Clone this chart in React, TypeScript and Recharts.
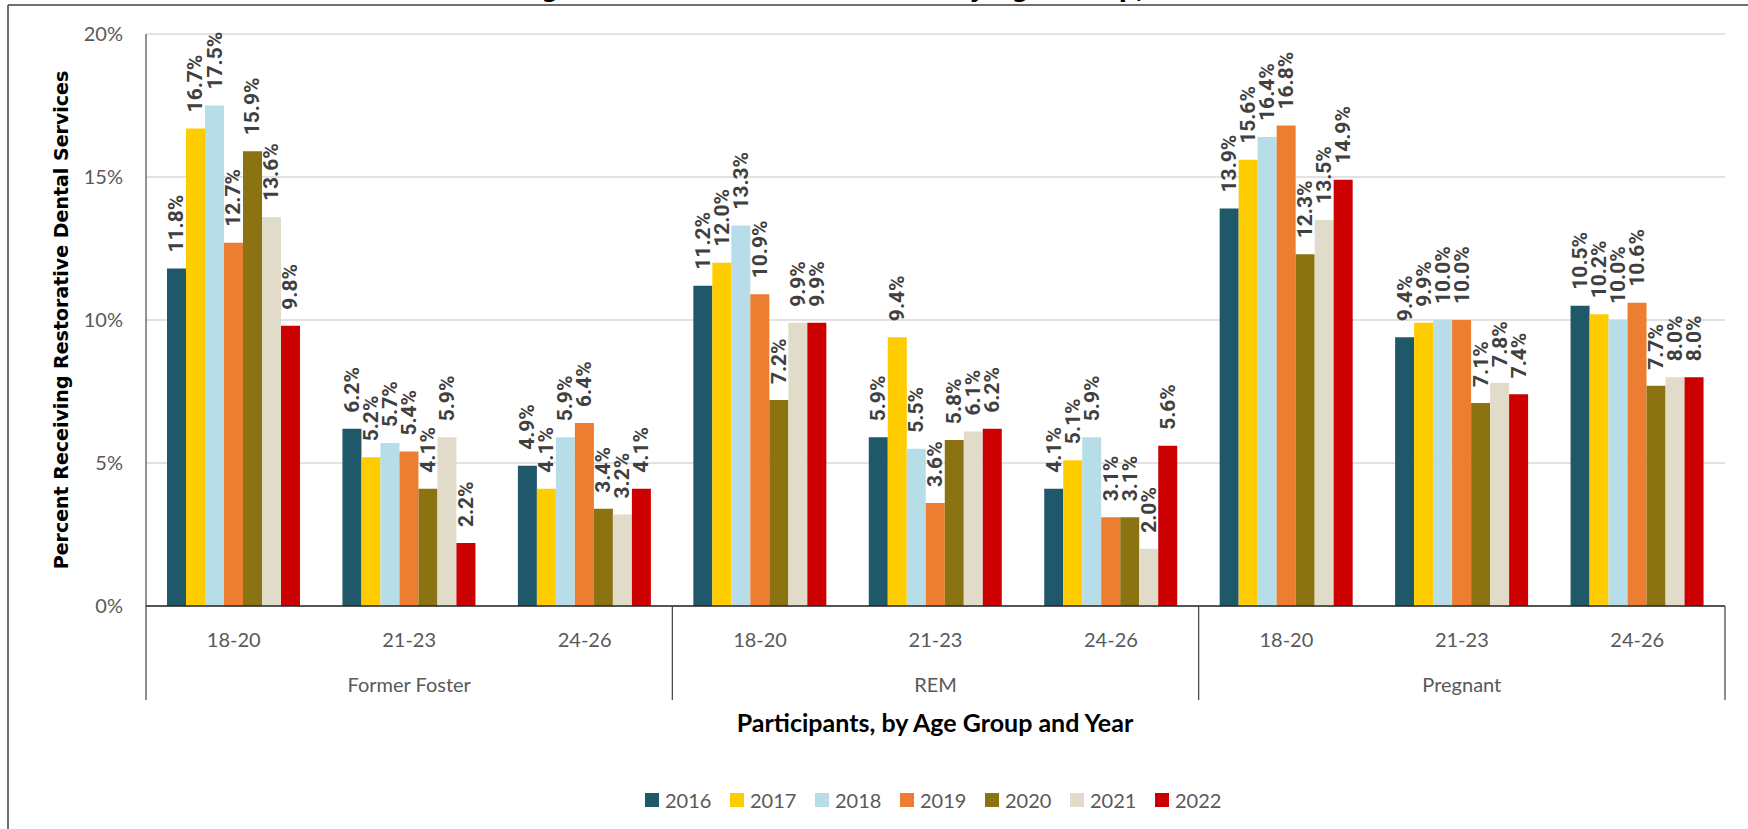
import { BarChart, Bar, XAxis, YAxis, CartesianGrid, LabelList } from 'recharts';

// categories
const groups = ['Former Foster', 'REM', 'Pregnant'];
const ages = ['18-20', '21-23', '24-26'];
const years = ['2016', '2017', '2018', '2019', '2020', '2021', '2022'];
const yTicks = [0, 5, 10, 15, 20];

// percent receiving restorative dental services, one list per year
// order: FF 18-20, FF 21-23, FF 24-26, REM 18-20, REM 21-23, REM 24-26, Preg 18-20, Preg 21-23, Preg 24-26
const v2016 = [11.8, 6.2, 4.9, 11.2, 5.9, 4.1, 13.9, 9.4, 10.5];
const v2017 = [16.7, 5.2, 4.1, 12.0, 9.4, 5.1, 15.6, 9.9, 10.2];
const v2018 = [17.5, 5.7, 5.9, 13.3, 5.5, 5.9, 16.4, 10.0, 10.0];
const v2019 = [12.7, 5.4, 6.4, 10.9, 3.6, 3.1, 16.8, 10.0, 10.6];
const v2020 = [15.9, 4.1, 3.4, 7.2, 5.8, 3.1, 12.3, 7.1, 7.7];
const v2021 = [13.6, 5.9, 3.2, 9.9, 6.1, 2.0, 13.5, 7.8, 8.0];
const v2022 = [9.8, 2.2, 4.1, 9.9, 6.2, 5.6, 14.9, 7.4, 8.0];

const seriesValues = [v2016, v2017, v2018, v2019, v2020, v2021, v2022];
const colors = ['#1f5868', '#ffcc00', '#b7dee8', '#ed7d31', '#8b7311', '#e1dcca', '#cc0000'];

const W = 1748;
const H = 829;
const Y_AXIS_W = 146;
const M_RIGHT = 23;
const M_TOP = 34;
const X_AXIS_H = 140;
const M_BOTTOM = 83;
const PLOT_W = W - Y_AXIS_W - M_RIGHT;

const calibri = 'Lato, "Open Sans", sans-serif';

const rows = groups.flatMap((g, gi) =>
  ages.map((a, ai) => {
    const row: Record<string, string | number> = { group: g, age: a };
    years.forEach((y, yi) => {
      row[y] = seriesValues[yi][gi * ages.length + ai];
    });
    return row;
  })
);

const AgeTick = (props: any) => {
  const { x, y, payload, index } = props;
  const band = PLOT_W / rows.length;
  const left = x - band / 2;
  const right = x + band / 2;
  const pos = index % ages.length;
  return (
    <g>
      <text x={x} y={y + 33} textAnchor="middle" dominantBaseline="central" fontFamily={calibri} fontSize={20} fill="#595959">
        {payload.value}
      </text>
      {pos === 1 && (
        <text x={x} y={y + 78} textAnchor="middle" dominantBaseline="central" fontFamily={calibri} fontSize={20} fill="#595959">
          {groups[Math.floor(index / ages.length)]}
        </text>
      )}
      {pos === 0 && <line x1={left} x2={left} y1={y} y2={y + 94} stroke="#404040" strokeWidth={1.2} />}
      {index === rows.length - 1 && <line x1={right} x2={right} y1={y} y2={y + 94} stroke="#404040" strokeWidth={1.2} />}
    </g>
  );
};

const BarLabel = (props: any) => {
  const vb = props.viewBox || props;
  const x = Number(props.x ?? vb.x);
  const y = Number(props.y ?? vb.y);
  const w = Number(props.width ?? vb.width);
  const cx = x + w / 2;
  const ty = y - 16;
  return (
    <text
      x={cx}
      y={ty}
      transform={`rotate(-90 ${cx} ${ty})`}
      textAnchor="start"
      dominantBaseline="central"
      fontFamily="Roboto, sans-serif"
      fontWeight={700}
      fontSize={21}
      fill="#404040"
    >
      {Number(props.value).toFixed(1)}%
    </text>
  );
};

export default function App() {
  return (
    <div style={{ position: 'absolute', left: 0, top: 0, width: W, height: H, overflow: 'hidden', background: '#fff' }}>
      <BarChart
        width={W}
        height={H}
        data={rows}
        margin={{ top: M_TOP, right: M_RIGHT, left: 0, bottom: M_BOTTOM }}
        barCategoryGap={21}
        barGap={0}
      >
        <CartesianGrid vertical={false} stroke="#d9d9d9" strokeWidth={1.5} />
        <XAxis
          dataKey="age"
          height={X_AXIS_H}
          interval={0}
          tick={<AgeTick />}
          tickLine={false}
          tickSize={0}
          tickMargin={0}
          axisLine={{ stroke: '#262626', strokeWidth: 1.5 }}
        />
        <YAxis
          width={Y_AXIS_W}
          domain={[0, 20]}
          ticks={yTicks}
          tickFormatter={(v: number) => `${v}%`}
          tickLine={false}
          tickSize={0}
          tickMargin={23}
          axisLine={{ stroke: '#262626', strokeWidth: 1 }}
          tick={{ fontFamily: calibri, fontSize: 20, fill: '#595959' }}
        />
        {years.map((y, i) => (
          <Bar key={y} dataKey={y} fill={colors[i]} isAnimationActive={false}>
            <LabelList dataKey={y} content={<BarLabel />} />
          </Bar>
        ))}
      </BarChart>
      <svg width={W} height={H} style={{ position: 'absolute', left: 0, top: 0, pointerEvents: 'none' }}>
        <line x1={8} x2={8} y1={5} y2={H} stroke="#404040" strokeWidth={1.5} />
        <line x1={8} x2={W} y1={5} y2={5} stroke="#404040" strokeWidth={1.5} />
        <text x={314} y={-3} fontFamily="DejaVu Sans, sans-serif" fontWeight={700} fontSize={24} fill="#000">
          Percent Receiving Restorative Dental Services by Age Group, 2016-2022
        </text>
        <text
          x={61}
          y={320}
          transform="rotate(-90 61 320)"
          textAnchor="middle"
          dominantBaseline="central"
          fontFamily="DejaVu Sans, sans-serif"
          fontWeight={700}
          fontSize={19}
          fill="#000"
        >
          Percent Receiving Restorative Dental Services
        </text>
        <text x={935} y={722} textAnchor="middle" dominantBaseline="central" fontFamily={calibri} fontWeight={700} fontSize={25} fill="#000">
          Participants, by Age Group and Year
        </text>
        {years.map((y, i) => (
          <g key={y}>
            <rect x={645 + 85 * i} y={793} width={14} height={14} fill={colors[i]} />
            <text x={665 + 85 * i} y={800} dominantBaseline="central" fontFamily={calibri} fontSize={20} fill="#595959">
              {y}
            </text>
          </g>
        ))}
      </svg>
    </div>
  );
}
